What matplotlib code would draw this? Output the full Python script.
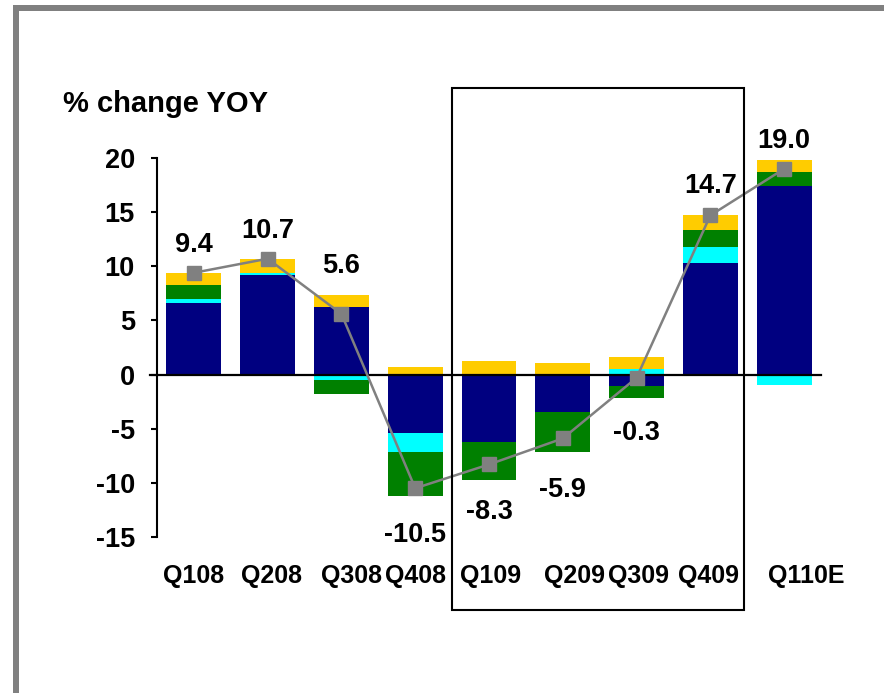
import matplotlib
matplotlib.use("Agg")
import matplotlib.pyplot as plt
from matplotlib.patches import Rectangle
import matplotlib.transforms as mtransforms
import numpy as np

plt.rcParams['font.family'] = ['Liberation Sans', 'DejaVu Sans']
plt.rcParams['font.weight'] = 'bold'

categories = ["Q108", "Q208", "Q308", "Q408", "Q109", "Q209", "Q309", "Q409", "Q110E"]
navy = [6.63, 9.19, 6.27, -5.35, -6.27, -3.5, -1.1, 10.32, 17.42]
cyan = [0.37, 0.15, -0.52, -1.84, 0.05, 0.0, 0.55, 1.48, -1.0]
green = [1.29, 0.0, -1.32, -4.0, -3.5, -3.69, -1.02, 1.56, 1.28]
yellow = [1.08, 1.35, 1.1, 0.74, 1.24, 1.1, 1.11, 1.39, 1.12]
total = [9.4, 10.7, 5.6, -10.5, -8.3, -5.9, -0.3, 14.7, 19.0]
yticks = [-15, -10, -5, 0, 5, 10, 15, 20]

# style: label gaps (px) and horizontal label shifts (px)
label_gaps = [21, 21, 22, 28, 21, 27, 24, 22, 12]
xlabel_shift = [0, 4, 10, 0, 2, 12, 2, -2, 22]

W, H = 884, 693
fig = plt.figure(figsize=(W / 100, H / 100), dpi=100)
ax = fig.add_axes([157 / W, 156 / H, (821 - 157) / W, (537 - 158) / H])

x = np.arange(len(categories))
series = [(navy, "#000080"), (cyan, "#00FFFF"), (green, "#008000"), (yellow, "#FFCC00")]
pos_base = np.zeros(len(x))
neg_base = np.zeros(len(x))
for vals, col in series:
    v = np.array(vals, dtype=float)
    bottoms = np.where(v >= 0, pos_base, neg_base)
    ax.bar(x, v, bottom=bottoms, width=0.745, color=col, edgecolor='none', zorder=2)
    pos_base = pos_base + np.where(v > 0, v, 0)
    neg_base = neg_base + np.where(v < 0, v, 0)

ax.axhline(0, color='black', lw=1.6, zorder=3, xmin=-0.01, xmax=1.0, clip_on=False)
ax.plot(x, total, color='#808080', lw=1.8, marker='s', markersize=10,
        markerfacecolor='#808080', markeredgecolor='#808080', zorder=4, clip_on=False)

for i, t in enumerate(total):
    if t >= 0:
        ref = max(pos_base[i], t)
        ax.annotate(f"{t:.1f}", (x[i], ref), xytext=(0, label_gaps[i]),
                    textcoords='offset pixels', ha='center', va='baseline',
                    fontsize=19.5, fontweight='bold', annotation_clip=False)
    else:
        ref = min(neg_base[i], t)
        ax.annotate(f"{t:.1f}", (x[i], ref), xytext=(0, -(label_gaps[i] + 18)),
                    textcoords='offset pixels', ha='center', va='baseline',
                    fontsize=19.5, fontweight='bold', annotation_clip=False)

ax.set_xlim(-0.5, len(x) - 0.5)
ax.set_ylim(-15, 20)
ax.set_yticks(yticks)
ax.set_yticklabels([str(v) for v in yticks])
ax.set_xticks(x)
ax.set_xticklabels(categories)
for s in ['top', 'right', 'bottom']:
    ax.spines[s].set_visible(False)
ax.spines['left'].set_linewidth(1.5)
ax.tick_params(axis='y', direction='out', length=4, width=1.5, pad=12, labelsize=19.5)
ax.tick_params(axis='x', length=0, pad=19.5, labelsize=18)
for lab in ax.get_xticklabels() + ax.get_yticklabels():
    lab.set_fontweight('bold')
for lab, dx in zip(ax.get_xticklabels(), xlabel_shift):
    lab.set_transform(lab.get_transform() +
                      mtransforms.ScaledTranslation(dx / 100, 0, fig.dpi_scale_trans))

fig.text(63 / W, 1 - 112 / H, "% change YOY", fontsize=21, fontweight='bold',
         ha='left', va='baseline')

# highlight box
fig.patches.append(Rectangle((452 / W, 1 - 610 / H), 292 / W, 522 / H,
                             transform=fig.transFigure, fill=False,
                             edgecolor='black', lw=1.5, zorder=5))
# gray frame
fig.patches.append(Rectangle((13 / W, 0), 6 / W, (H - 5) / H, transform=fig.transFigure,
                             facecolor='#808080', edgecolor='none'))
fig.patches.append(Rectangle((13 / W, 1 - 11 / H), (W - 13) / W, 6 / H, transform=fig.transFigure,
                             facecolor='#808080', edgecolor='none'))

fig.savefig("out.png", dpi=100)
